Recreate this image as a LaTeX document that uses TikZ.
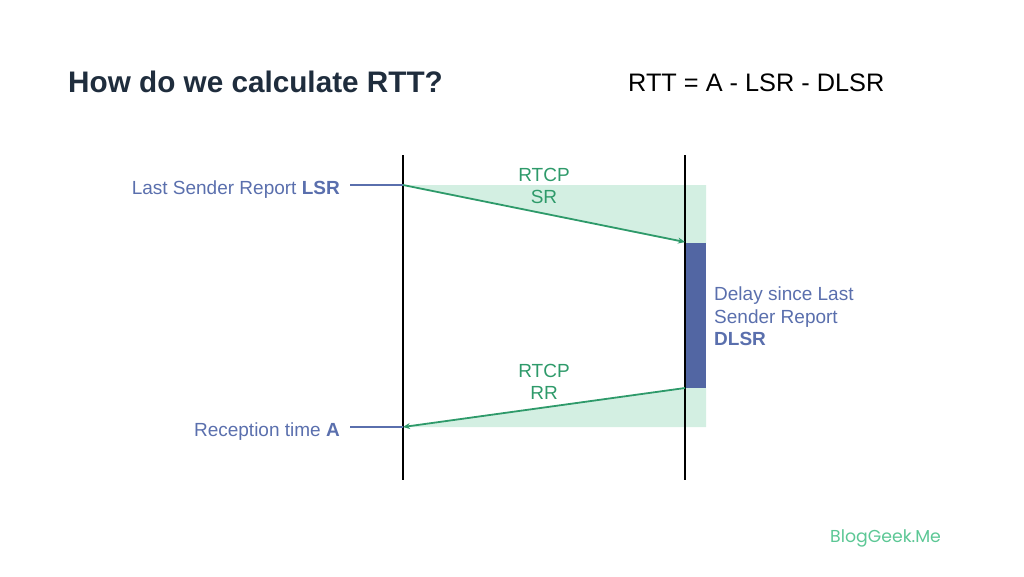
\documentclass[tikz,border=0pt]{standalone}
\usepackage{fontspec}
\setmainfont{Liberation Sans}
\newfontfamily\logofont{Poppins}
\usetikzlibrary{arrows.meta}
\definecolor{titlecol}{HTML}{1F2D3D}
\definecolor{grn}{HTML}{2E9A6A}
\definecolor{grnfill}{HTML}{D3EFE2}
\definecolor{bluetxt}{HTML}{5A6FAD}
\definecolor{bluebox}{HTML}{5266A3}
\definecolor{logocol}{HTML}{5CC795}
\tikzset{
  lifeline/.style={line width=1.8pt, black},
  msg/.style={line width=1.8pt, grn, -{Stealth[length=7pt,width=6pt]}},
  tick/.style={line width=1.5pt, bluetxt},
  lbl/.style={font=\fontsize{19}{22.5}\selectfont, text=bluetxt, inner sep=0pt},
  msglbl/.style={font=\fontsize{19}{22}\selectfont, text=grn, align=center, inner sep=0pt},
}
\begin{document}
\begin{tikzpicture}[x=1pt,y=-1pt]
\useasboundingbox (0,0) rectangle (1024,576);
% shading
\fill[grnfill] (403,185) -- (706,185) -- (706,243) -- (685,243) -- cycle;
\fill[grnfill] (685,388) -- (706,388) -- (706,427) -- (403,427) -- cycle;
\fill[bluebox] (685,243) rectangle (706,388);
% lifelines
\coordinate (lt) at (403,155); \coordinate (lb) at (403,480);
\coordinate (rt) at (685,155); \coordinate (rb) at (685,480);
\draw[lifeline] (lt) -- (lb);
\draw[lifeline] (rt) -- (rb);
% points
\coordinate (lsr) at (403,185);
\coordinate (sr) at (685,242);
\coordinate (rrs) at (685,388);
\coordinate (a) at (403,427);
\draw[msg] (lsr) -- (sr);
\draw[msg] (rrs) -- (a);
% labels
\node[lbl, anchor=base east] (lsrlbl) at (340,194) {Last Sender Report \textbf{LSR}};
\coordinate (lsrl) at (350,185);
\draw[tick] (lsrl) -- (lsr);
\node[lbl, anchor=base east] (albl) at (340,436) {Reception time \textbf{A}};
\coordinate (al) at (350,427);
\draw[tick] (al) -- (a);
\node[msglbl, anchor=center] (srlbl) at (544,186) {RTCP\\SR};
\node[msglbl, anchor=center] (rrlbl) at (544,382) {RTCP\\RR};
\node[lbl, anchor=north west, align=left] (dlsr) at (714,287) {Delay since Last\\Sender Report\\\textbf{DLSR}};
% titles
\node[anchor=base west, inner sep=0pt, font=\fontsize{29.7}{34}\selectfont\bfseries, text=titlecol] (title) at (68,92) {How do we calculate RTT?};
\node[anchor=base west, inner sep=0pt, font=\fontsize{25.3}{30}\selectfont, text=black] (formula) at (628,91) {RTT = A - LSR - DLSR};
\node[anchor=base west, inner sep=0pt, font=\logofont\fontsize{17.3}{20}\selectfont, text=logocol] (logo) at (830,542) {BlogGeek.Me};
\end{tikzpicture}
\end{document}
